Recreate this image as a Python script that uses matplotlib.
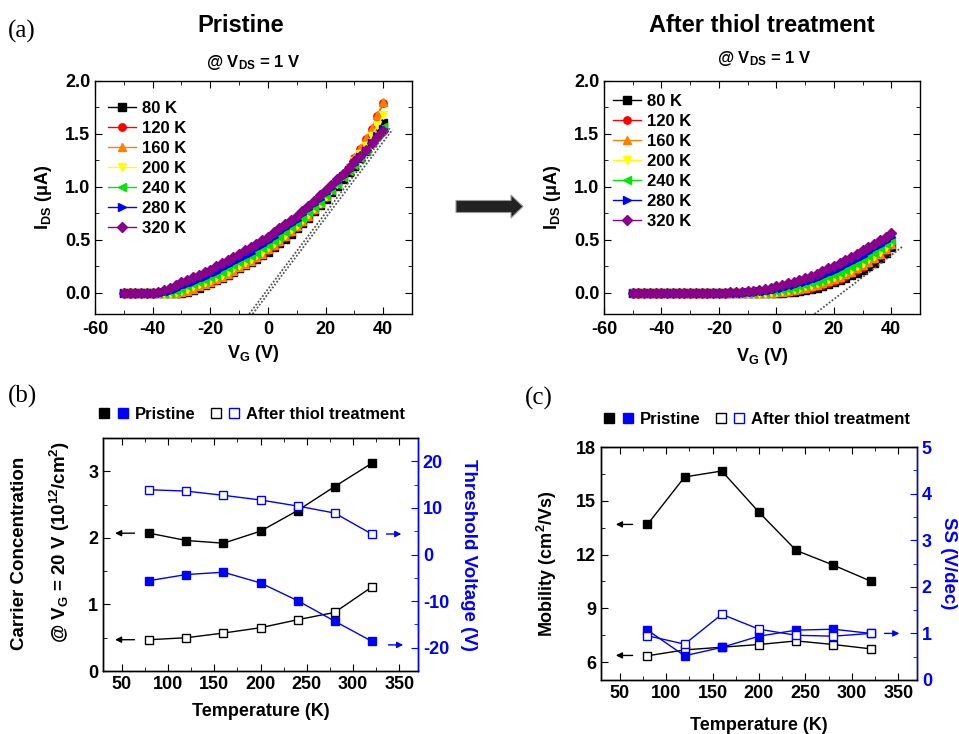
import numpy as np
import matplotlib
matplotlib.use("Agg")
import matplotlib.pyplot as plt
from matplotlib.ticker import MultipleLocator, FormatStrFormatter
from matplotlib.legend_handler import HandlerTuple
from matplotlib.lines import Line2D
from matplotlib.patches import FancyArrow

# ---- data ----
vg = np.arange(-50, 41, 2)          # gate sweep, 2 V steps
temps = [80, 120, 160, 200, 240, 280, 320]

# pristine transfer curves (uA)
ip_80 = [0, 0, 0, 0, 0, 0, 0, 0, 0, 0,
         0.00, 0.01, 0.03, 0.05, 0.07, 0.09, 0.12, 0.14, 0.17, 0.20,
         0.23, 0.26, 0.29, 0.32, 0.36, 0.39, 0.43, 0.47, 0.51, 0.56,
         0.61, 0.66, 0.71, 0.77, 0.83, 0.89, 0.95, 1.01, 1.07, 1.14,
         1.20, 1.27, 1.34, 1.42, 1.51, 1.60]
ip_120 = [0, 0, 0, 0, 0, 0, 0, 0, 0, 0,
          0.01, 0.02, 0.04, 0.06, 0.08, 0.10, 0.12, 0.15, 0.18, 0.21,
          0.24, 0.27, 0.30, 0.33, 0.37, 0.40, 0.44, 0.48, 0.53, 0.57,
          0.62, 0.67, 0.72, 0.78, 0.84, 0.90, 0.97, 1.04, 1.11, 1.19,
          1.27, 1.36, 1.45, 1.55, 1.67, 1.79]
ip_160 = [0, 0, 0, 0, 0, 0, 0, 0, 0, 0,
          0.01, 0.02, 0.04, 0.06, 0.08, 0.10, 0.13, 0.15, 0.18, 0.21,
          0.24, 0.27, 0.30, 0.34, 0.37, 0.41, 0.45, 0.49, 0.54, 0.58,
          0.63, 0.68, 0.73, 0.79, 0.85, 0.91, 0.98, 1.05, 1.12, 1.20,
          1.28, 1.37, 1.46, 1.56, 1.68, 1.80]
ip_200 = [0, 0, 0, 0, 0, 0, 0, 0, 0, 0.01,
          0.02, 0.04, 0.06, 0.08, 0.10, 0.12, 0.15, 0.17, 0.20, 0.23,
          0.26, 0.29, 0.32, 0.36, 0.39, 0.43, 0.47, 0.51, 0.55, 0.60,
          0.64, 0.69, 0.74, 0.80, 0.85, 0.91, 0.97, 1.03, 1.10, 1.17,
          1.24, 1.31, 1.39, 1.48, 1.58, 1.68]
ip_240 = [0, 0, 0, 0, 0, 0, 0, 0, 0.01, 0.02,
          0.04, 0.06, 0.08, 0.10, 0.12, 0.15, 0.17, 0.20, 0.23, 0.26,
          0.29, 0.32, 0.35, 0.38, 0.42, 0.45, 0.49, 0.53, 0.57, 0.62,
          0.66, 0.71, 0.76, 0.81, 0.86, 0.92, 0.97, 1.03, 1.09, 1.15,
          1.21, 1.27, 1.34, 1.41, 1.49, 1.57]
ip_280 = [0, 0, 0, 0, 0, 0, 0, 0.01, 0.02, 0.04,
          0.06, 0.08, 0.10, 0.13, 0.15, 0.18, 0.20, 0.23, 0.26, 0.29,
          0.32, 0.35, 0.38, 0.42, 0.45, 0.49, 0.53, 0.57, 0.61, 0.65,
          0.69, 0.74, 0.79, 0.84, 0.89, 0.94, 0.99, 1.05, 1.10, 1.16,
          1.22, 1.28, 1.34, 1.41, 1.48, 1.55]
ip_320 = [0, 0, 0, 0, 0, 0, 0.01, 0.03, 0.05, 0.07,
          0.10, 0.12, 0.15, 0.17, 0.20, 0.22, 0.25, 0.28, 0.31, 0.34,
          0.37, 0.40, 0.43, 0.46, 0.50, 0.53, 0.57, 0.61, 0.65, 0.69,
          0.73, 0.77, 0.82, 0.87, 0.92, 0.97, 1.02, 1.07, 1.12, 1.18,
          1.24, 1.29, 1.35, 1.41, 1.47, 1.53]

# after thiol treatment (uA)
zeros20 = [0] * 20
it_80 = zeros20 + [0, 0, 0, 0, 0, 0, 0, 0.005, 0.01, 0.015,
                   0.025, 0.035, 0.045, 0.06, 0.08, 0.10, 0.12, 0.14, 0.165, 0.19,
                   0.22, 0.25, 0.285, 0.33, 0.38, 0.43]
it_120 = zeros20 + [0, 0, 0, 0, 0, 0, 0.005, 0.01, 0.015, 0.025,
                    0.035, 0.045, 0.06, 0.075, 0.095, 0.115, 0.135, 0.16, 0.185, 0.215,
                    0.245, 0.28, 0.315, 0.355, 0.40, 0.45]
it_160 = zeros20 + [0, 0, 0, 0, 0, 0.005, 0.01, 0.015, 0.025, 0.035,
                    0.045, 0.06, 0.075, 0.09, 0.11, 0.13, 0.15, 0.175, 0.20, 0.23,
                    0.26, 0.295, 0.33, 0.37, 0.41, 0.46]
it_200 = zeros20 + [0, 0, 0, 0, 0.005, 0.01, 0.02, 0.03, 0.04, 0.05,
                    0.06, 0.075, 0.09, 0.11, 0.13, 0.15, 0.17, 0.195, 0.22, 0.25,
                    0.28, 0.315, 0.35, 0.39, 0.43, 0.48]
it_240 = zeros20 + [0, 0, 0.005, 0.01, 0.015, 0.02, 0.03, 0.04, 0.05, 0.06,
                    0.075, 0.09, 0.105, 0.125, 0.145, 0.165, 0.19, 0.215, 0.24, 0.27,
                    0.31, 0.345, 0.38, 0.42, 0.46, 0.50]
it_280 = [0] * 10 + [0, 0, 0, 0, 0, 0, 0, 0, 0, 0.003,
                     0.006, 0.01, 0.015, 0.02, 0.03, 0.04, 0.05, 0.06, 0.075, 0.09,
                     0.105, 0.12, 0.14, 0.16, 0.185, 0.21, 0.235, 0.26, 0.29, 0.32,
                     0.35, 0.385, 0.42, 0.455, 0.49, 0.53]
it_320 = [0] * 10 + [0, 0, 0, 0, 0, 0, 0.003, 0.005, 0.008, 0.011,
                     0.015, 0.02, 0.03, 0.04, 0.05, 0.06, 0.075, 0.09, 0.105, 0.12,
                     0.14, 0.16, 0.18, 0.205, 0.23, 0.255, 0.28, 0.31, 0.34, 0.37,
                     0.40, 0.43, 0.46, 0.495, 0.53, 0.565]

# linear-fit guide lines (V, uA)
fitp_v = [[-6.5, 42.4], [-5.3, 43.2]]
fitp_i = [[-0.2, 1.56], [-0.2, 1.54]]
fitt_v = [[13.3, 44.1]]
fitt_i = [[-0.2, 0.44]]

# panel (b) and (c)
T = [80, 120, 160, 200, 240, 280, 320]
cc_pristine = [2.07, 1.96, 1.92, 2.10, 2.41, 2.77, 3.12]
cc_thiol = [0.47, 0.50, 0.57, 0.65, 0.77, 0.88, 1.26]
vth_pristine = [-5.6, -4.3, -3.8, -6.1, -9.9, -14.3, -18.6]
vth_thiol = [13.9, 13.6, 12.7, 11.7, 10.4, 8.9, 4.4]
mob_pristine = [13.68, 16.33, 16.66, 14.36, 12.23, 11.41, 10.52]
mob_thiol = [6.35, 6.68, 6.83, 6.98, 7.18, 6.98, 6.74]
ss_pristine = [1.07, 0.52, 0.70, 0.94, 1.07, 1.09, 1.00]
ss_thiol = [0.95, 0.77, 1.41, 1.09, 0.96, 0.94, 1.00]

colors = ["black", "#FF0000", "#FF8000", "#FFFF00", "#00E600", "#0000FF", "#8B008B"]
markers = ["s", "o", "^", "v", "<", ">", "D"]

plt.rcParams.update({
    "font.family": ["Liberation Sans", "DejaVu Sans"],
    "font.weight": "bold",
    "axes.labelweight": "bold",
    "axes.unicode_minus": False,
    "mathtext.fontset": "custom",
    "mathtext.rm": "Liberation Sans:bold",
    "mathtext.bf": "Liberation Sans:bold",
    "mathtext.it": "Liberation Sans:bold",
    "mathtext.default": "bf",
    "xtick.direction": "in",
    "ytick.direction": "in",
    "xtick.major.size": 5,
    "ytick.major.size": 5,
    "xtick.minor.size": 3,
    "ytick.minor.size": 3,
    "xtick.labelsize": 13,
    "ytick.labelsize": 13,
    "axes.linewidth": 1.0,
})

W, H = 959, 734
fig = plt.figure(figsize=(W / 100, H / 100), dpi=100)


def box(l, t, r, b):
    return [l / W, 1 - b / H, (r - l) / W, (b - t) / H]


def txt(x, y, s, **kw):
    fig.text(x / W, 1 - y / H, s, **kw)


def iv_panel(rect, curves, fv, fi, leg_xy, xlab_pad):
    ax = fig.add_axes(rect)
    for t, cur, c, m in zip(temps, curves, colors, markers):
        ax.plot(vg, cur, color=c, marker=m, ms=5.3, mec=c, lw=1, label=f"{t} K")
    for x, y in zip(fv, fi):
        ax.plot(x, y, ls=(0, (1, 1)), color="#555555", lw=1.3)
    ax.set_xlim(-60, 50)
    ax.set_ylim(-0.2, 2.0)
    ax.set_xticks(range(-60, 41, 20))
    ax.xaxis.set_minor_locator(MultipleLocator(10))
    ax.set_yticks(np.arange(0, 2.01, 0.5))
    ax.yaxis.set_minor_locator(MultipleLocator(0.25))
    ax.yaxis.set_major_formatter(FormatStrFormatter("%.1f"))
    ax.tick_params(which="both", top=True, right=True)
    ax.tick_params(axis="x", pad=5)
    ax.set_xlabel("V$_G$ (V)", fontsize=13, labelpad=xlab_pad)
    ax.set_ylabel("I$_{DS}$ (\u03bcA)", fontsize=13, labelpad=8)
    ax.legend(loc="upper left", bbox_to_anchor=leg_xy, frameon=False, fontsize=12,
              borderpad=0, borderaxespad=0, labelspacing=0.3,
              handlelength=1.7, handletextpad=0.35)
    return ax


iv_panel(box(95, 81, 412, 314),
         [ip_80, ip_120, ip_160, ip_200, ip_240, ip_280, ip_320],
         fitp_v, fitp_i, (0.041, 0.915), 4)
iv_panel(box(604, 81, 920, 314),
         [it_80, it_120, it_160, it_200, it_240, it_280, it_320],
         fitt_v, fitt_i, (0.028, 0.945), 6)


def temp_panel(rect, yl, yr, ylim_l, ylim_r, lstep, lminor, rstep, rminor,
               leg_xy, xlab_pad):
    ax = fig.add_axes(rect)
    ax.plot(T, yl[0], "s-", color="k", mfc="k", ms=6, lw=1)
    ax.plot(T, yl[1], "s-", color="k", mfc="white", ms=6, lw=1)
    ax.set_xlim(30, 370)
    ax.set_ylim(*ylim_l)
    ax.set_xticks(range(50, 351, 50))
    ax.xaxis.set_minor_locator(MultipleLocator(25))
    ax.yaxis.set_major_locator(MultipleLocator(lstep))
    ax.yaxis.set_minor_locator(MultipleLocator(lminor))
    ax.tick_params(which="both", top=True, right=False)
    ax.set_xlabel("Temperature (K)", fontsize=13, labelpad=xlab_pad)
    ax2 = ax.twinx()
    ax2.plot(T, yr[0], "s-", color="blue", mfc="blue", ms=6, lw=1)
    ax2.plot(T, yr[1], "s-", color="blue", mfc="white", ms=6, lw=1)
    ax2.set_ylim(*ylim_r)
    ax2.yaxis.set_major_locator(MultipleLocator(rstep))
    ax2.yaxis.set_minor_locator(MultipleLocator(rminor))
    ax2.tick_params(which="both", direction="in", colors="blue")
    ax2.spines["right"].set_color("blue")
    h1 = (Line2D([], [], ls="none", marker="s", color="k", ms=7),
          Line2D([], [], ls="none", marker="s", color="blue", ms=7))
    h2 = (Line2D([], [], ls="none", marker="s", mec="k", mfc="white", ms=7),
          Line2D([], [], ls="none", marker="s", mec="blue", mfc="white", ms=7))
    ax.legend([h1, h2], ["Pristine", "After thiol treatment"],
              handler_map={tuple: HandlerTuple(ndivide=None, pad=0.45)},
              ncol=2, loc="center", bbox_to_anchor=leg_xy, frameon=False,
              fontsize=12, handlelength=1.75, handletextpad=0.4, columnspacing=0.9)
    return ax, ax2


# (b)
axb, axb2 = temp_panel(box(103, 438, 418, 671), (cc_pristine, cc_thiol),
                       (vth_pristine, vth_thiol), (0, 3.5), (-25, 25),
                       1, 0.5, 10, 5, (0.473, 1.103), 7)
axb2.set_ylabel("Threshold Voltage (V)", color="blue", fontsize=13.5,
                rotation=270, labelpad=20)
arr_k = dict(arrowstyle="-|>", color="k", lw=1, mutation_scale=9)
arr_b = dict(arrowstyle="-|>", color="blue", lw=1, mutation_scale=9)
axb.annotate("", xy=(40, cc_pristine[0]), xytext=(67, cc_pristine[0]), arrowprops=arr_k)
axb.annotate("", xy=(40, cc_thiol[0]), xytext=(67, cc_thiol[0]), arrowprops=arr_k)
axb2.annotate("", xy=(355, vth_thiol[-1]), xytext=(333, vth_thiol[-1]), arrowprops=arr_b)
axb2.annotate("", xy=(357, -19.4), xytext=(335, -19.4), arrowprops=arr_b)

# (c)
axc, axc2 = temp_panel(box(601, 447, 917, 680), (mob_pristine, mob_thiol),
                       (ss_pristine, ss_thiol), (5, 18), (0, 5),
                       3, 1.5, 1, 0.5, (0.494, 1.12), 11)
axc.set_ylabel("Mobility (cm$^2$/Vs)", fontsize=13, labelpad=12)
axc2.set_ylabel("SS (V/dec)", color="blue", fontsize=13.5, rotation=270, labelpad=18)
axc.annotate("", xy=(43, mob_pristine[0]), xytext=(67, mob_pristine[0]), arrowprops=arr_k)
axc.annotate("", xy=(43, 6.37), xytext=(67, 6.37), arrowprops=arr_k)
axc2.annotate("", xy=(354, ss_thiol[-1]), xytext=(332, ss_thiol[-1]), arrowprops=arr_b)

# left label of (b) in two lines
txt(20, 553, "Carrier Concentration", rotation=90, ha="center", va="center",
    fontsize=13.5, fontweight="bold")
txt(60, 542, "@ V$_G$ = 20 V (10$^{12}$/cm$^2$)", rotation=90, ha="center",
    va="center", fontsize=13.5, fontweight="bold")

# titles and panel letters
txt(241, 25, "Pristine", ha="center", va="center", fontsize=17, fontweight="bold")
txt(253, 62, "@ V$_{DS}$ = 1 V", ha="center", va="center", fontsize=12, fontweight="bold")
txt(762, 25, "After thiol treatment", ha="center", va="center", fontsize=17,
    fontweight="bold")
txt(764, 58, "@ V$_{DS}$ = 1 V", ha="center", va="center", fontsize=12, fontweight="bold")
serif = dict(family="Liberation Serif", fontweight="normal", fontsize=18,
             ha="left", va="center")
txt(8, 31, "(a)", **serif)
txt(8, 396, "(b)", **serif)
txt(525, 398, "(c)", **serif)

# big arrow between the two I-V panels
ov = fig.add_axes([0, 0, 1, 1], zorder=-1)
ov.set_xlim(0, W)
ov.set_ylim(H, 0)
ov.axis("off")
ov.add_patch(FancyArrow(456, 206.5, 67, 0, width=12, head_width=23, head_length=12,
                        length_includes_head=True, fc="#222222", ec="#999999", lw=0.8))

fig.savefig("out.png", dpi=100)
